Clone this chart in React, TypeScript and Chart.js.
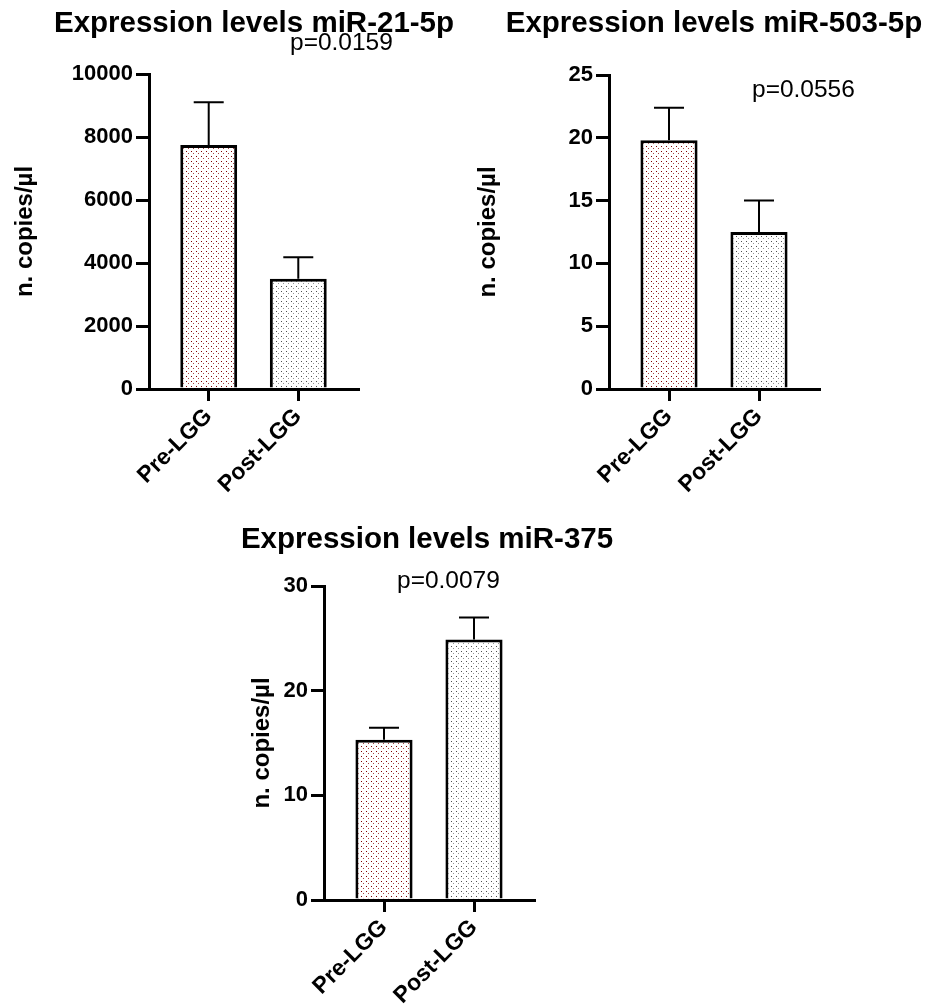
import React, { useEffect, useRef } from "react";
import { Chart, registerables } from "chart.js";

Chart.register(...registerables);

// ---------- data ----------
const categories = ["Pre-LGG", "Post-LGG"];
const yAxisTitle = "n. copies/µl";

const mir21Title = "Expression levels miR-21-5p";
const mir21P = "p=0.0159";
const mir21Means = [7750, 3500];
const mir21Errors = [1350, 680];
const mir21Ticks = [0, 2000, 4000, 6000, 8000, 10000];

const mir503Title = "Expression levels miR-503-5p";
const mir503P = "p=0.0556";
const mir503Means = [19.8, 12.5];
const mir503Errors = [2.6, 2.5];
const mir503Ticks = [0, 5, 10, 15, 20, 25];

const mir375Title = "Expression levels miR-375";
const mir375P = "p=0.0079";
const mir375Means = [15.3, 24.9];
const mir375Errors = [1.15, 2.1];
const mir375Ticks = [0, 10, 20, 30];

// ---------- layout ----------
const PAGE_W = 928;
const PAGE_H = 1007;
const Y_AXIS_W = 100;
const X_AXIS_H = 120;
const FONT = '"Liberation Sans", Arial, Helvetica, sans-serif';

type Panel = {
  title: string;
  p: string;
  means: number[];
  errors: number[];
  ticks: number[];
  area: { left: number; right: number; top: number; bottom: number };
  titleX: number;
  titleY: number;
  pX: number;
  pY: number;
  yTitleX: number;
};

const panels: Panel[] = [
  {
    title: mir21Title, p: mir21P, means: mir21Means, errors: mir21Errors, ticks: mir21Ticks,
    area: { left: 149, right: 358, top: 74, bottom: 389 },
    titleX: 254, titleY: 32, pX: 290, pY: 50, yTitleX: 25,
  },
  {
    title: mir503Title, p: mir503P, means: mir503Means, errors: mir503Errors, ticks: mir503Ticks,
    area: { left: 609, right: 819, top: 75, bottom: 389 },
    titleX: 714, titleY: 32, pX: 752, pY: 97, yTitleX: 488,
  },
  {
    title: mir375Title, p: mir375P, means: mir375Means, errors: mir375Errors, ticks: mir375Ticks,
    area: { left: 324, right: 534, top: 586, bottom: 900 },
    titleX: 427, titleY: 548, pX: 397, pY: 588, yTitleX: 262,
  },
];

function makePattern(dark: string, light: string): CanvasPattern | string {
  const c = document.createElement("canvas");
  c.width = 5;
  c.height = 5;
  const ctx = c.getContext("2d");
  if (!ctx) return "#fff";
  ctx.fillStyle = "#ffffff";
  ctx.fillRect(0, 0, 5, 5);
  ctx.fillStyle = dark;
  ctx.fillRect(1, 1, 1, 1);
  ctx.fillStyle = light;
  ctx.fillRect(3, 3, 1, 1);
  const pat = ctx.createPattern(c, "repeat");
  return pat || "#fff";
}

function PanelChart({ panel }: { panel: Panel }) {
  const ref = useRef<HTMLCanvasElement | null>(null);

  useEffect(() => {
    if (!ref.current) return;
    const pre = makePattern("#800000", "#a84444");
    const post = makePattern("#4f4f4f", "#949494");

    const decor = {
      id: "decor_" + panel.title,
      afterDatasetsDraw(chart: any) {
        const ctx = chart.ctx;
        const meta = chart.getDatasetMeta(0);
        const ys = chart.scales.y;
        ctx.save();
        ctx.strokeStyle = "#000";
        ctx.lineWidth = 2;
        panel.means.forEach((m, i) => {
          const el = meta.data[i];
          if (!el) return;
          const x = el.x;
          const yb = ys.getPixelForValue(m);
          const yt = ys.getPixelForValue(m + panel.errors[i]);
          ctx.beginPath();
          ctx.moveTo(x, yb);
          ctx.lineTo(x, yt);
          ctx.moveTo(x - 15, yt);
          ctx.lineTo(x + 15, yt);
          ctx.stroke();
        });
        ctx.restore();
      },
      afterDraw(chart: any) {
        const ctx = chart.ctx;
        const area = chart.chartArea;
        ctx.save();
        ctx.fillStyle = "#000";
        ctx.textBaseline = "alphabetic";
        ctx.textAlign = "center";
        ctx.font = `bold 29.5px ${FONT}`;
        ctx.fillText(panel.title, panel.titleX, panel.titleY);
        ctx.textAlign = "left";
        ctx.font = `24.5px ${FONT}`;
        ctx.fillText(panel.p, panel.pX, panel.pY);
        ctx.translate(panel.yTitleX, (area.top + area.bottom) / 2);
        ctx.rotate(-Math.PI / 2);
        ctx.textAlign = "center";
        ctx.textBaseline = "middle";
        ctx.font = `bold 24px ${FONT}`;
        ctx.fillText(yAxisTitle, 0, 0);
        ctx.restore();
      },
    };

    const chart = new Chart(ref.current, {
      type: "bar",
      data: {
        datasets: [
          {
            data: panel.means.map((m, i) => ({ x: i + 1, y: m })),
            backgroundColor: [pre, post] as any,
            borderColor: "#000",
            borderWidth: 3,
            barPercentage: 0.635,
            categoryPercentage: 1,
          },
        ],
      },
      options: {
        responsive: false,
        animation: false,
        devicePixelRatio: 1,
        layout: {
          padding: {
            left: panel.area.left - Y_AXIS_W,
            right: PAGE_W - panel.area.right,
            top: panel.area.top,
            bottom: PAGE_H - panel.area.bottom - X_AXIS_H,
          },
        },
        plugins: {
          legend: { display: false },
          tooltip: { enabled: false },
          title: { display: false },
        },
        scales: {
          x: {
            type: "linear",
            offset: false,
            min: 1 / 3,
            max: 8 / 3,
            afterBuildTicks: (s: any) => {
              s.ticks = categories.map((_, i) => ({ value: i + 1 }));
            },
            afterFit: (s: any) => {
              s.height = X_AXIS_H;
            },
            grid: {
              offset: false,
              drawOnChartArea: false,
              drawTicks: true,
              tickLength: 12,
              lineWidth: 3,
              color: "#000",
            },
            border: { display: true, color: "#000", width: 3, z: 1 },
            ticks: {
              autoSkip: false,
              minRotation: 45,
              maxRotation: 45,
              padding: 2,
              color: "#000",
              font: { family: FONT, size: 23, weight: "bold" },
              callback: (v: any) => categories[Math.round(Number(v)) - 1] ?? "",
            },
          },
          y: {
            type: "linear",
            min: 0,
            max: panel.ticks[panel.ticks.length - 1],
            afterBuildTicks: (s: any) => {
              s.ticks = panel.ticks.map((v) => ({ value: v }));
            },
            afterFit: (s: any) => {
              s.width = Y_AXIS_W;
            },
            grid: {
              drawOnChartArea: false,
              drawTicks: true,
              tickLength: 13,
              lineWidth: 3,
              color: "#000",
            },
            border: { display: true, color: "#000", width: 3, z: 1 },
            ticks: {
              padding: 3,
              color: "#000",
              font: { family: FONT, size: 22, weight: "bold" },
              callback: (v: any) => String(v),
            },
          },
        },
      },
      plugins: [decor],
    } as any);

    return () => chart.destroy();
  }, [panel]);

  return (
    <canvas
      ref={ref}
      width={PAGE_W}
      height={PAGE_H}
      style={{ position: "absolute", left: 0, top: 0, width: PAGE_W, height: PAGE_H }}
    />
  );
}

export default function App() {
  return (
    <div
      style={{
        position: "absolute",
        left: 0,
        top: 0,
        width: PAGE_W,
        height: PAGE_H,
        background: "#fff",
        overflow: "hidden",
      }}
    >
      {panels.map((p) => (
        <PanelChart key={p.title} panel={p} />
      ))}
    </div>
  );
}
